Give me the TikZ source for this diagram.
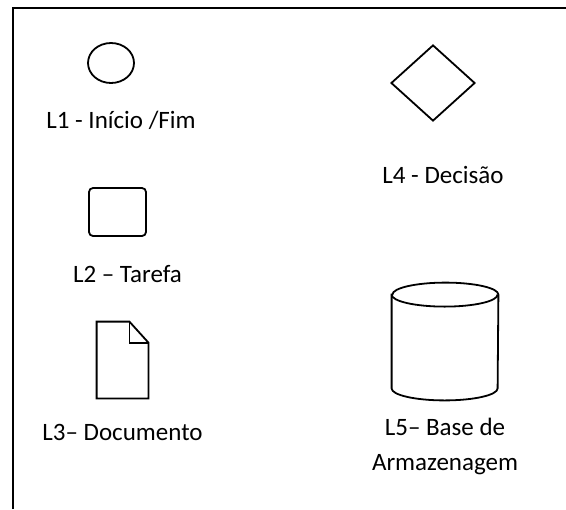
\documentclass[tikz,border=0pt]{standalone}
\usepackage{fontspec}
\setmainfont{Carlito}
\usetikzlibrary{positioning,shapes.geometric}
\tikzset{
 sym/.style={draw=black,line width=0.9pt,inner sep=0pt},
 hold/.style={inner sep=0pt},
 txt/.style={font=\fontsize{12.5}{17.5}\selectfont,inner sep=0pt,align=center},
 lbl/.style={txt,text height=9pt,text depth=3pt}
}
\begin{document}
\begin{tikzpicture}[x=0.5pt,y=0.5pt]
\useasboundingbox (0,0) rectangle (566,-509);
\draw[line width=1.3pt] (13,-509) -- (13,-8) -- (566,-8);
% left column
\node[sym,ellipse,minimum width=23pt,minimum height=20pt] (a) at (111,-63) {};
\node[lbl,below=13pt of a,xshift=5pt] (la) {L1 - Início /Fim};
\node[sym,rounded corners=2pt,minimum width=28.5pt,minimum height=24pt] (b) at (117.5,-212) {};
\node[lbl,below=13.5pt of b,xshift=5pt] (lb) {L2 – Tarefa};
\node[hold,minimum width=25.5pt,minimum height=38pt] (c) at (122.5,-360) {};
\draw[sym] (c.north west) -- ([xshift=-9.5pt]c.north east) -- ([yshift=-10.5pt]c.north east) -- (c.south east) -- (c.south west) -- cycle;
\draw[sym] ([xshift=-9.5pt]c.north east) |- ([yshift=-10.5pt]c.north east);
\node[lbl,below=12pt of c] (lc) {L3– Documento};
% right column
\node[sym,diamond,minimum width=42pt,minimum height=38pt] (d) at (433,-83) {};
\node[lbl,below=21.5pt of d,xshift=5pt] (ld) {L4 - Decisão};
\node[hold,minimum width=53pt,minimum height=58.5pt] (e) at (445,-341.5) {};
\draw[sym] ([yshift=-6pt]e.north west) -- ([yshift=6pt]e.south west)
  arc[start angle=180,end angle=360,x radius=26.5pt,y radius=6pt]
  -- ([yshift=-6pt]e.north east)
  arc[start angle=0,end angle=180,x radius=26.5pt,y radius=6pt] -- cycle;
\draw[sym] ([yshift=-6pt]e.north west) arc[start angle=180,end angle=360,x radius=26.5pt,y radius=6pt];
\node[txt,below=8.5pt of e] (le) {L5– Base de\\Armazenagem};
\end{tikzpicture}
\end{document}
